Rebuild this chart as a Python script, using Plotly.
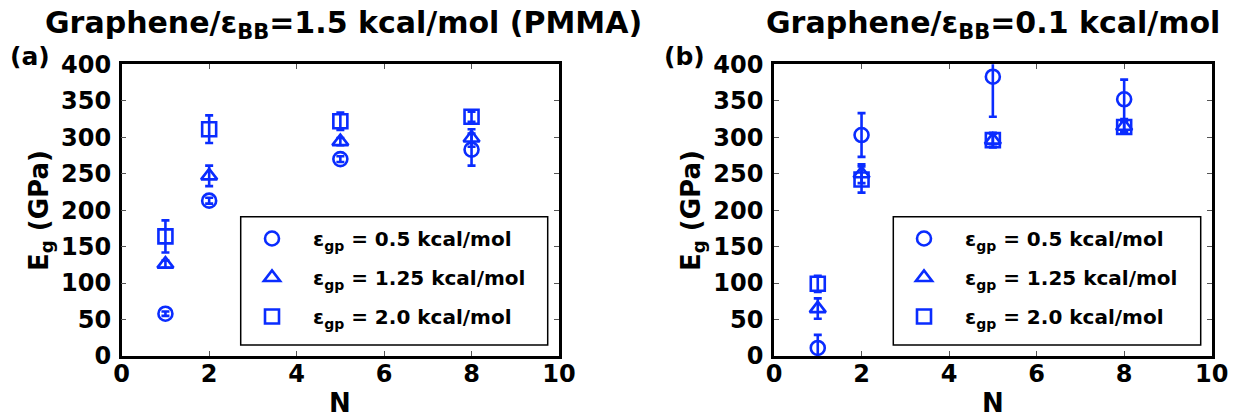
import plotly.graph_objects as go

N = [1, 2, 5, 8]

# Panel (a): Graphene / eps_BB = 1.5 kcal/mol (PMMA)
a_e05 = [58, 213, 270, 283]
a_e05_err = [3, 4, 4, 22]
a_e125 = [126, 247, 294, 299]
a_e125_err = [5, 14, 5, 12]
a_e20 = [164, 311, 322, 328]
a_e20_err = [22, 19, 12, 7]

# Panel (b): Graphene / eps_BB = 0.1 kcal/mol
b_e05 = [11, 303, 383, 352]
b_e05_err = [18, 30, 55, 27]
b_e125 = [65, 250, 296, 315]
b_e125_err = [14, 13, 10, 8]
b_e20 = [99, 242, 296, 314]
b_e20_err = [11, 18, 9, 7]

series_names = ["ε<sub>gp</sub> = 0.5 kcal/mol",
                "ε<sub>gp</sub> = 1.25 kcal/mol",
                "ε<sub>gp</sub> = 2.0 kcal/mol"]
symbols = ["circle-open", "triangle-up-open", "square-open"]
titles = ["Graphene/ε<sub>BB</sub>=1.5 kcal/mol (PMMA)",
          "Graphene/ε<sub>BB</sub>=0.1 kcal/mol"]
panel_labels = ["(a)", "(b)"]
x_title = "N"
y_title = "E<sub>g</sub> (GPa)"
x_ticks = [0, 2, 4, 6, 8, 10]
y_ticks = [0, 50, 100, 150, 200, 250, 300, 350, 400]

BLUE = "#0a2cff"
FONT = "DejaVu Sans"
W, H = 1239, 417

fig = go.Figure()

panels = [
    ([a_e05, a_e125, a_e20], [a_e05_err, a_e125_err, a_e20_err]),
    ([b_e05, b_e125, b_e20], [b_e05_err, b_e125_err, b_e20_err]),
]

for p, (vals, errs) in enumerate(panels):
    xa = "x" if p == 0 else "x2"
    ya = "y" if p == 0 else "y2"
    leg = "legend" if p == 0 else "legend2"
    for i in range(3):
        fig.add_trace(go.Scatter(
            x=N, y=vals[i], mode="markers", name=series_names[i],
            xaxis=xa, yaxis=ya, legend=leg, legendgroup=f"g{p}{i}",
            marker=dict(symbol=symbols[i], size=14, color=BLUE,
                        line=dict(width=2.6, color=BLUE)),
            error_y=dict(type="data", array=errs[i], visible=True,
                         color=BLUE, thickness=2.6, width=4),
            cliponaxis=False,
        ))

xd = [[121.7 / W, 559 / W], [774 / W, 1211.7 / W]]
yd = [(H - 356) / H, (H - 64.3) / H]

axis_common = dict(
    showline=True, linecolor="black", linewidth=2.5, mirror="ticks",
    ticks="inside", ticklen=5, tickwidth=1, tickcolor="#555",
    showgrid=False, zeroline=False, automargin=False,
    tickfont=dict(family=FONT, size=24, color="black", weight="bold"),
)

for p in range(2):
    sfx = "" if p == 0 else "2"
    fig.layout["xaxis" + sfx] = dict(
        axis_common, domain=xd[p], range=[0, 10], tickvals=x_ticks,
        anchor="y" + sfx, ticklabelstandoff=-6,
    )
    fig.layout["yaxis" + sfx] = dict(
        axis_common, domain=yd, range=[0, 400], tickvals=y_ticks,
        anchor="x" + sfx, ticklabelstandoff=3,
    )

# axis titles
xcent = [(121.7 + 559) / 2 / W, (774 + 1211.7) / 2 / W]
ytitle_x = [40 / W, 692 / W]
for p in range(2):
    fig.add_annotation(text="<b>" + x_title + "</b>", xref="paper", yref="paper",
                       x=xcent[p], y=(H - 403) / H, xanchor="center", yanchor="middle",
                       showarrow=False, font=dict(family=FONT, size=26, color="black"))
    fig.add_annotation(text="<b>" + y_title + "</b>", xref="paper", yref="paper",
                       x=ytitle_x[p], y=(H - 210) / H, xanchor="center", yanchor="middle",
                       textangle=-90, showarrow=False,
                       font=dict(family=FONT, size=26, color="black"))

# legend boxes (styling)
leg_boxes = [[240.7, 547.7], [893.3, 1200.7]]
for p in range(2):
    x0, x1 = leg_boxes[p]
    fig.add_shape(type="rect", xref="paper", yref="paper",
                  x0=x0 / W, x1=x1 / W, y0=(H - 345) / H, y1=(H - 216.7) / H,
                  line=dict(color="black", width=1.5), fillcolor="rgba(0,0,0,0)")

leg_common = dict(
    bgcolor="rgba(0,0,0,0)", borderwidth=0,
    font=dict(family=FONT, size=20, color="black", weight="bold"),
    xanchor="left", yanchor="top", tracegroupgap=10, itemwidth=72,
)
fig.layout.legend = dict(leg_common, x=231 / W, y=(H - 219) / H)
fig.layout.legend2 = dict(leg_common, x=883 / W, y=(H - 219) / H)

# titles & panel labels
title_x = [343 / W, 993 / W]
for p in range(2):
    fig.add_annotation(text="<b>" + titles[p] + "</b>", xref="paper", yref="paper",
                       x=title_x[p], y=(H - 25) / H, xanchor="center", yanchor="middle",
                       showarrow=False, font=dict(family=FONT, size=30, color="black"))
label_x = [30 / W, 684 / W]
for p in range(2):
    fig.add_annotation(text="<b>" + panel_labels[p] + "</b>", xref="paper", yref="paper",
                       x=label_x[p], y=(H - 56) / H, xanchor="center", yanchor="middle",
                       showarrow=False, font=dict(family=FONT, size=25, color="black"))

fig.update_layout(
    width=W, height=H, margin=dict(l=0, r=0, t=0, b=0),
    paper_bgcolor="white", plot_bgcolor="white", showlegend=True,
)

fig.write_html("out.html")
